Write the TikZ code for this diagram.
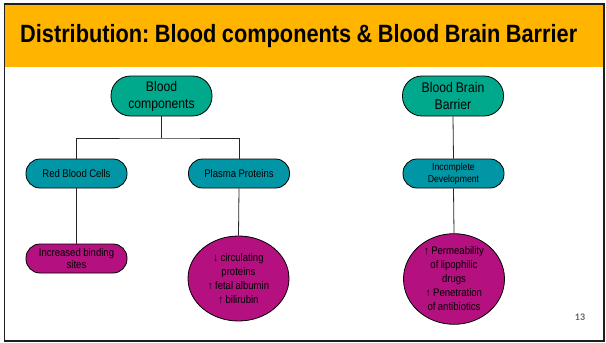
\documentclass[tikz,border=0pt]{standalone}
\usepackage{fontspec}
\setmainfont{Liberation Sans}[FakeStretch=0.87, WordSpace=0.9]
\newfontfamily\numfont{Carlito}
\usetikzlibrary{shapes.geometric}
\definecolor{bandyellow}{RGB}{255,180,0}
\definecolor{topteal}{RGB}{0,168,140}
\definecolor{midteal}{RGB}{0,150,165}
\definecolor{leafmag}{RGB}{180,16,128}
\definecolor{framegray}{RGB}{30,30,30}
\frenchspacing
\begin{document}
\begin{tikzpicture}[x=1pt,y=-1pt,
  rootbox/.style={draw=black, line width=0.8pt, fill=topteal, rounded corners=19.5pt,
    minimum width=101pt, minimum height=40pt, inner sep=0pt, align=center,
    font=\fontsize{14}{17}\selectfont},
  midbox/.style={draw=black, line width=0.8pt, fill=midteal, rounded corners=14pt,
    minimum width=101pt, minimum height=29pt, inner sep=0pt, align=center,
    font=\fontsize{11}{12}\selectfont},
  leafbox/.style={draw=black, line width=0.8pt, fill=leafmag, rounded corners=14pt,
    minimum width=101pt, minimum height=29pt, inner sep=0pt, align=center,
    font=\fontsize{11}{12}\selectfont},
  leafoval/.style={draw=black, line width=0.8pt, fill=leafmag, ellipse,
    minimum width=101pt, minimum height=85pt, inner sep=0pt, align=center,
    font=\fontsize{11}{13.8}\selectfont},
  link/.style={draw=black!85, line width=0.8pt}
]
\useasboundingbox (0,0) rectangle (606,343);
% frame and title band
\fill[bandyellow] (4.5,4) rectangle (604,67);
\draw[framegray, line width=1.8pt] (4.5,4) rectangle (604,341);
\node[anchor=west, inner sep=0pt, font=\fontsize{25}{25}\selectfont\bfseries] (title) at (20,36)
  {Distribution: Blood components \& Blood Brain Barrier};

% nodes
\node[rootbox] (blood) at (161.5,96) {Blood\\components};
\node[rootbox] (bbb) at (453,96) {Blood Brain\\Barrier};
\node[midbox] (rbc) at (76.5,173.5) {Red Blood Cells};
\node[midbox] (pp) at (239,173.5) {Plasma Proteins};
\node[midbox, font=\fontsize{10}{12}\selectfont] (incdev) at (453.5,173.5) {Incomplete\\Development};
\node[leafbox] (ibs) at (76.5,258.5) {Increased binding\\sites};
\node[leafoval] (circ) at (238.5,278.5) {↓ circulating\\proteins\\↑ fetal albumin\\↑ bilirubin};
\node[leafoval, minimum height=84pt, font=\fontsize{11}{14}\selectfont] (perm) at (454,279)
  {↑ Permeability\\of lipophilic\\drugs\\↑ Penetration\\of antibiotics};

% connectors
\coordinate (split) at (161.5,138);
\draw[link] (blood.south) -- (split);
\draw[link] (rbc.north) |- (split) -| (pp.north);
\draw[link] (rbc.south) -- (ibs.north);
\draw[link] (pp.south) -- (circ.north);
\draw[link] (bbb.south) -- (incdev.north);
\draw[link] (incdev.south) -- (perm.north);

% page number
\node[inner sep=0pt, text=black!60, font=\numfont\fontsize{10}{10}\selectfont\bfseries] (pagenum) at (580,317) {13};
\end{tikzpicture}
\end{document}
